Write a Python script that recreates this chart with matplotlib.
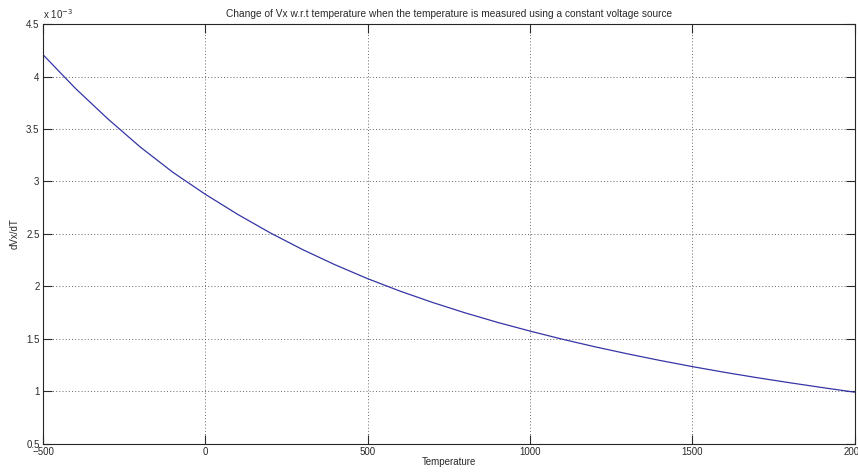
import matplotlib
matplotlib.use("Agg")
import matplotlib.pyplot as plt
from matplotlib.ticker import FuncFormatter

# Data (dVx/dT in units of 1e-3)
temperature = [-500, -400, -300, -200, -100, 0, 100, 200, 300, 400, 500, 600, 700,
               800, 900, 1000, 1100, 1200, 1300, 1400, 1500, 1600, 1700, 1800, 1900, 2000]
dvx_dt_e3 = [4.210, 3.888, 3.597, 3.328, 3.088, 2.878, 2.686, 2.510, 2.350, 2.205, 2.073,
             1.954, 1.846, 1.747, 1.656, 1.573, 1.495, 1.423, 1.356, 1.293, 1.234,
             1.179, 1.128, 1.080, 1.034, 0.990]
x_ticks = [-500, 0, 500, 1000, 1500, 2000]
y_ticks_e3 = [0.5, 1, 1.5, 2, 2.5, 3, 3.5, 4, 4.5]

plt.rcParams['font.family'] = ['Liberation Sans', 'DejaVu Sans']
text_color = '#2a2a2a'

fig = plt.figure(figsize=(8.58, 4.72), dpi=100)
ax = fig.add_axes([43 / 858, 1 - 443.5 / 472, (854.5 - 43) / 858, (443.5 - 24.3) / 472])

scale = 1e-3
ax.plot(temperature, [v * scale for v in dvx_dt_e3], color='#3535a5', lw=0.9)

ax.set_xlim(-500, 2000)
ax.set_ylim(0.5 * scale, 4.5 * scale)
ax.set_xticks(x_ticks)
ax.set_yticks([v * scale for v in y_ticks_e3])
ax.yaxis.set_major_formatter(FuncFormatter(lambda y, p: f"{y / scale:g}"))

ax.tick_params(direction='in', length=6.5, width=0.8, top=True, right=True,
               labelsize=7, colors=text_color, pad=2.5)
for s in ax.spines.values():
    s.set_linewidth(0.8)
    s.set_color('#262626')

ax.grid(True, color='#555555', linestyle=(0, (1.2, 2.6)), linewidth=0.6)

ax.set_title("Change of Vx w.r.t temperature when the temperature is measured using a constant voltage source",
             fontsize=7.3, color=text_color, pad=5)
ax.set_xlabel("Temperature", fontsize=7, color=text_color, labelpad=0)
ax.set_ylabel("dVx/dT", fontsize=7, color=text_color, labelpad=5)

ax.text(0.0, 1.008, r"x 10$^{-3}$", transform=ax.transAxes, fontsize=7,
        color=text_color, ha='left', va='bottom')

fig.savefig("out.png", dpi=100)
